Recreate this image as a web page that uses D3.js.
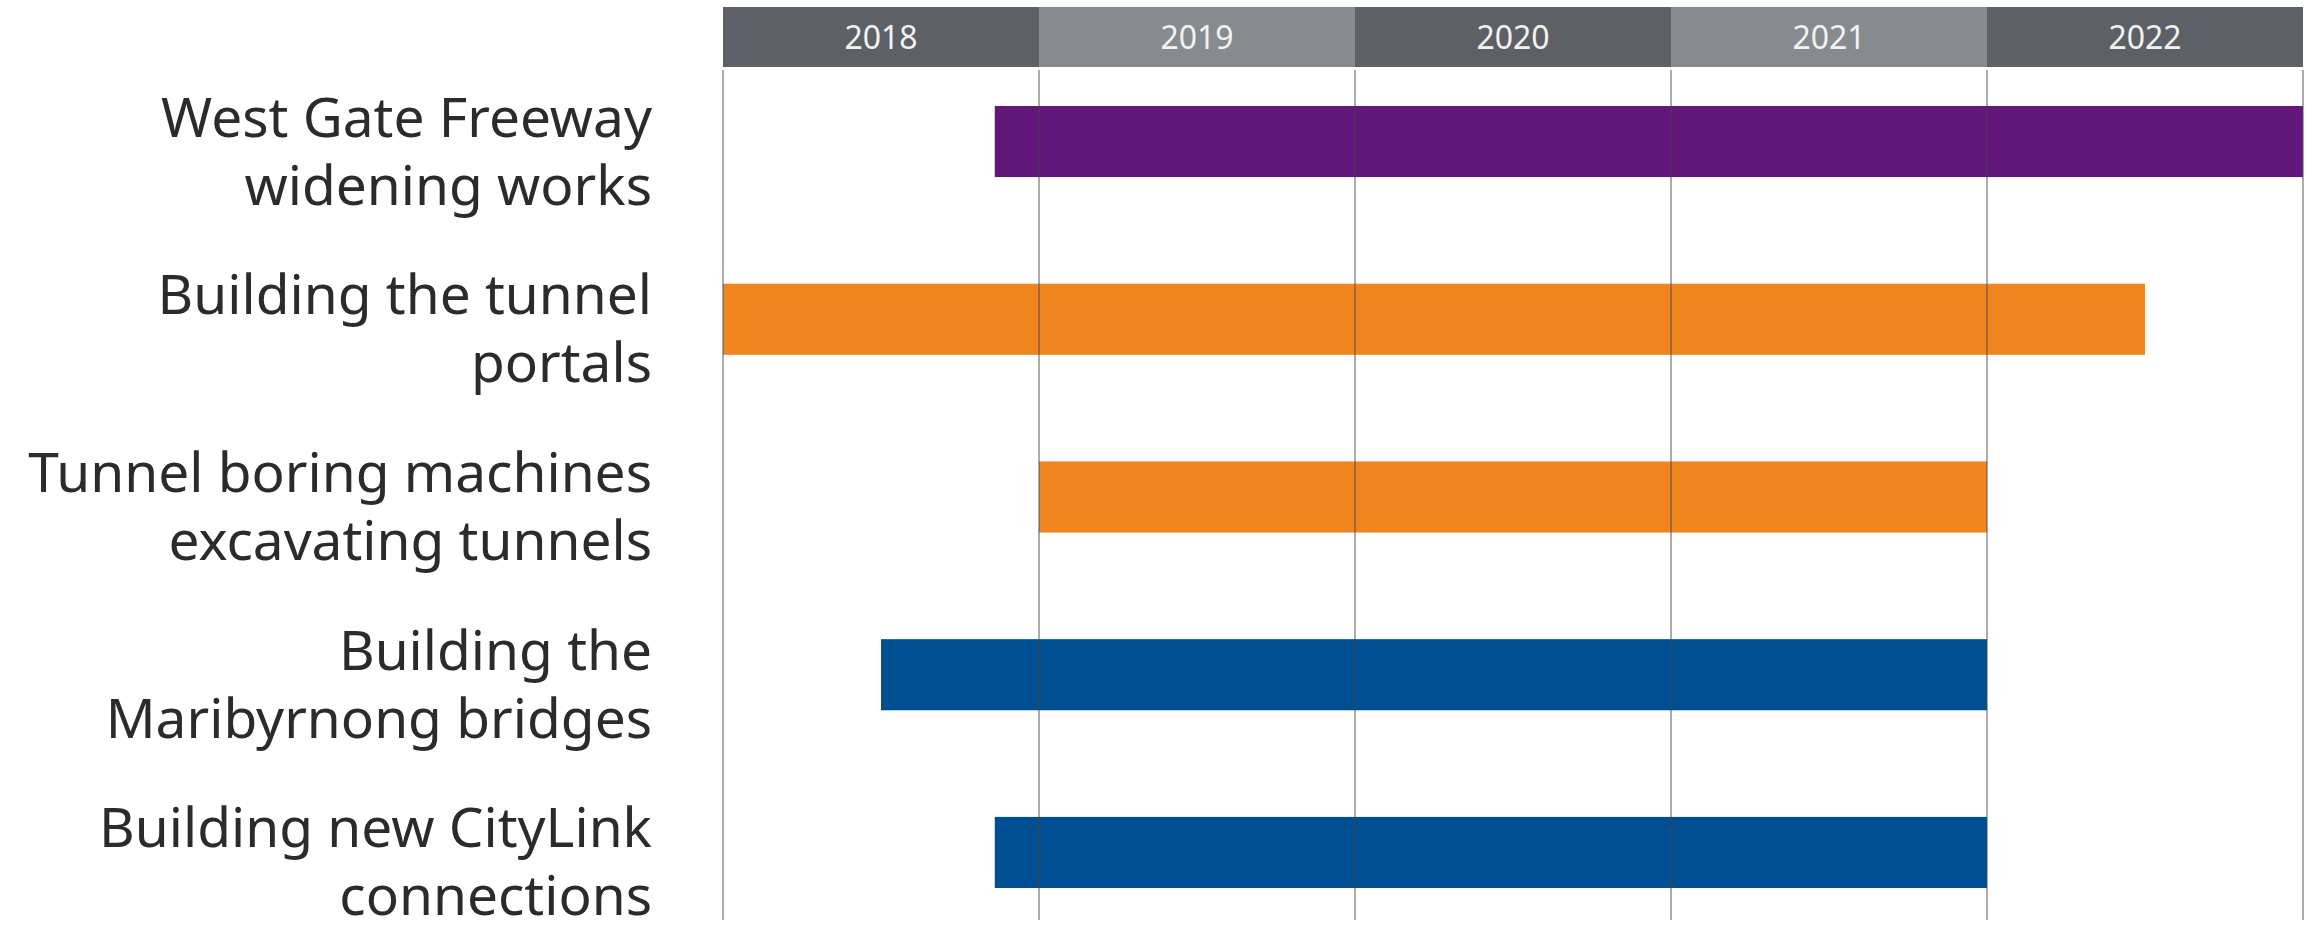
<!DOCTYPE html>
<html>
<head>
<meta charset="utf-8">
<script src="https://cdn.jsdelivr.net/npm/d3@7"></script>
<style>
  html, body { margin: 0; padding: 0; background: #fff; }
  svg { display: block; }
</style>
</head>
<body>
<svg id="chart" width="2315" height="932"></svg>
<script>
// Chart data
const years = [2018, 2019, 2020, 2021, 2022];
const tasks = [
  "West Gate Freeway widening works",
  "Building the tunnel portals",
  "Tunnel boring machines excavating tunnels",
  "Building the Maribyrnong bridges",
  "Building new CityLink connections"
];
const taskLines = [
  ["West Gate Freeway", "widening works"],
  ["Building the tunnel", "portals"],
  ["Tunnel boring machines", "excavating tunnels"],
  ["Building the", "Maribyrnong bridges"],
  ["Building new CityLink", "connections"]
];
const workType = ["freeway", "tunnel", "tunnel", "bridge", "bridge"];
const startYear = [2018.86, 2018.0, 2019.0, 2018.5, 2018.86];
const endYear = [2023.0, 2022.5, 2022.0, 2022.0, 2022.0];

const svg = d3.select("#chart");

// Scales
const x = d3.scaleLinear()
  .domain([2018, 2023])
  .range([723, 2303]);

const y = d3.scaleBand()
  .domain(tasks)
  .range([106, 888])
  .paddingInner(0.6);

const color = d3.scaleOrdinal()
  .domain(["freeway", "tunnel", "bridge"])
  .range(["#62177a", "#f0861e", "#004f93"]);

// Year header band
const header = svg.append("g");
header.selectAll("rect")
  .data(years)
  .join("rect")
  .attr("x", d => x(d))
  .attr("y", 7)
  .attr("width", d => x(d + 1) - x(d))
  .attr("height", 60)
  .attr("fill", (d, i) => i % 2 === 0 ? "#5d6067" : "#878a8f");

header.selectAll("text")
  .data(years)
  .join("text")
  .attr("x", d => (x(d) + x(d + 1)) / 2)
  .attr("y", 37)
  .attr("dy", "0.36em")
  .attr("text-anchor", "middle")
  .attr("font-family", "'Noto Sans', sans-serif")
  .attr("font-size", 32)
  .attr("fill", "#f2f2f2")
  .text(d => d);

// Bars
const rows = tasks.map((t, i) => ({ task: t, type: workType[i], start: startYear[i], end: endYear[i] }));

svg.append("g")
  .selectAll("rect")
  .data(rows)
  .join("rect")
  .attr("x", d => x(d.start))
  .attr("y", d => y(d.task))
  .attr("width", d => x(d.end) - x(d.start))
  .attr("height", y.bandwidth())
  .attr("fill", d => color(d.type));

// Vertical year lines (drawn on top of bars)
const gridTicks = years.concat([years[years.length - 1] + 1]);
svg.append("g")
  .selectAll("line")
  .data(gridTicks)
  .join("line")
  .attr("x1", d => x(d))
  .attr("x2", d => x(d))
  .attr("y1", 70)
  .attr("y2", 920)
  .attr("stroke", "#444")
  .attr("stroke-opacity", 0.45)
  .attr("stroke-width", 2);

// Task labels
const labels = svg.append("g")
  .selectAll("text")
  .data(tasks)
  .join("text")
  .attr("text-anchor", "end")
  .attr("font-family", "'Noto Sans', sans-serif")
  .attr("font-size", 55)
  .attr("fill", "#2b2b2b");

labels.each(function (d, i) {
  const cy = y(d) + y.bandwidth() / 2;
  d3.select(this).selectAll("tspan")
    .data(taskLines[i])
    .join("tspan")
    .attr("x", 652)
    .attr("y", (line, j) => cy - 5 + j * 68)
    .text(line => line);
});
</script>
</body>
</html>
